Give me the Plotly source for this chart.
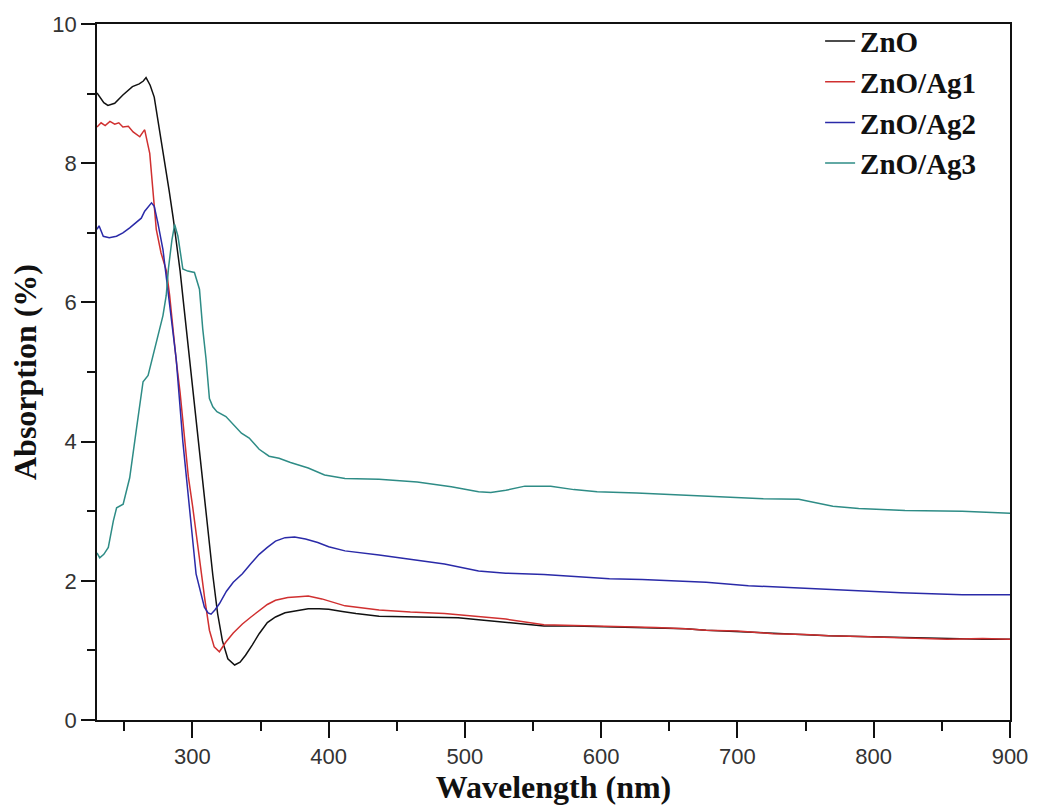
import plotly.graph_objects as go

# ---- data ----
x_zno = [230, 232, 235, 238, 243, 249, 256, 261, 264, 266, 269, 272, 276, 280, 283, 286, 291, 294, 297, 300,
         305, 310, 315, 318.5, 322, 326, 331, 335, 339, 344, 349, 355, 361, 368, 376, 385, 393, 400, 410, 420,
         437, 460, 495, 510, 530, 558, 580, 606, 640, 662, 677, 700, 726, 750, 767, 790, 811, 854, 880, 900]
y_zno = [9.01, 8.95, 8.87, 8.83, 8.86, 8.98, 9.10, 9.14, 9.18, 9.23, 9.12, 8.95, 8.48, 8.0, 7.6, 7.2, 6.45, 5.9, 5.35, 4.75,
         3.86, 2.95, 2.08, 1.53, 1.14, 0.88, 0.79, 0.83, 0.93, 1.08, 1.24, 1.40, 1.48, 1.54, 1.57, 1.60, 1.60, 1.59, 1.56, 1.53,
         1.49, 1.48, 1.47, 1.44, 1.40, 1.35, 1.35, 1.34, 1.32, 1.31, 1.29, 1.27, 1.24, 1.22, 1.21, 1.20, 1.19, 1.17, 1.16, 1.16]

x_ag1 = [230, 233, 236, 239.5, 243, 246, 249, 253, 256.5, 259, 261.4, 263.8, 265, 268.7, 271, 273.5, 277, 281, 283.3, 285.7,
         288, 291, 294.2, 297, 300.3, 303, 306.3, 309, 312.5, 316, 319.8, 324.6, 330, 336.7, 343, 349, 355, 361, 370, 378,
         385, 395, 412, 437, 460, 485, 510, 530, 558, 580, 606, 640, 662, 677, 700, 726, 750, 767, 790, 811, 854, 880, 900]
y_ag1 = [8.52, 8.58, 8.54, 8.60, 8.56, 8.58, 8.52, 8.53, 8.45, 8.42, 8.38, 8.45, 8.48, 8.14, 7.67, 7.05, 6.71, 6.45, 6.10, 5.62,
         5.19, 4.70, 4.00, 3.50, 3.05, 2.65, 2.10, 1.75, 1.29, 1.05, 0.98, 1.12, 1.25, 1.38, 1.48, 1.57, 1.66, 1.72, 1.76, 1.77,
         1.78, 1.74, 1.64, 1.58, 1.55, 1.53, 1.49, 1.45, 1.37, 1.36, 1.34, 1.33, 1.31, 1.29, 1.28, 1.24, 1.23, 1.21, 1.20, 1.19, 1.16, 1.17, 1.16]

x_ag2 = [230, 231.5, 234.6, 239, 244.3, 249, 254, 258, 262.5, 265, 268.7, 270, 272, 274.7, 278.4, 280.8, 283.3, 285.7, 288.1, 293,
         297.9, 302.7, 308.8, 311.5, 313.7, 316.5, 319.8, 325, 330, 336.7, 343, 349, 355, 361, 368, 375, 383, 392, 400, 412,
         437, 464, 485, 510, 530, 558, 580, 606, 630, 655, 677, 708, 730, 759, 789, 820, 865, 900]
y_ag2 = [7.05, 7.10, 6.95, 6.93, 6.95, 7.00, 7.07, 7.14, 7.21, 7.31, 7.40, 7.43, 7.38, 7.14, 6.76, 6.38, 6.00, 5.62, 5.19, 4.00,
         3.05, 2.10, 1.62, 1.54, 1.52, 1.58, 1.67, 1.85, 1.98, 2.10, 2.25, 2.38, 2.48, 2.57, 2.62, 2.63, 2.60, 2.55, 2.49, 2.43,
         2.37, 2.30, 2.24, 2.14, 2.11, 2.09, 2.06, 2.03, 2.02, 2.00, 1.98, 1.93, 1.91, 1.88, 1.85, 1.83, 1.80, 1.80]

x_ag3 = [230, 232, 235, 238.3, 242, 244.4, 249.2, 254, 259, 263.8, 267.5, 271, 276, 278.4, 280.8, 282.5, 285, 287, 289.4, 293,
         296.6, 301.5, 305.2, 307.6, 310, 312.5, 315, 318, 324.6, 330, 336, 341.7, 349, 356.3, 363.6, 372, 385, 397, 412, 437,
         465, 490, 510, 519, 530, 544, 563, 580, 597, 626, 662.6, 677, 700, 719, 745, 770, 789, 823, 865, 900]
y_ag3 = [2.40, 2.33, 2.38, 2.48, 2.86, 3.05, 3.10, 3.48, 4.19, 4.86, 4.95, 5.24, 5.62, 5.81, 6.10, 6.50, 6.90, 7.12, 6.95, 6.48,
         6.45, 6.43, 6.19, 5.62, 5.19, 4.62, 4.50, 4.43, 4.36, 4.24, 4.12, 4.05, 3.89, 3.79, 3.76, 3.70, 3.62, 3.52, 3.47, 3.46,
         3.42, 3.35, 3.28, 3.27, 3.30, 3.36, 3.36, 3.31, 3.28, 3.26, 3.23, 3.21, 3.20, 3.18, 3.17, 3.07, 3.04, 3.01, 3.00, 2.97]

series_names = ["ZnO", "ZnO/Ag1", "ZnO/Ag2", "ZnO/Ag3"]
series_colors = ["#111111", "#d03030", "#2a2aa8", "#2e8c86"]
series_x = [x_zno, x_ag1, x_ag2, x_ag3]
series_y = [y_zno, y_ag1, y_ag2, y_ag3]

x_tickvals = [300, 400, 500, 600, 700, 800, 900]
y_tickvals = [0, 2, 4, 6, 8, 10]

fig = go.Figure()
for name, color, xs, ys in zip(series_names, series_colors, series_x, series_y):
    fig.add_trace(go.Scatter(x=xs, y=ys, mode="lines", name=name,
                             line=dict(color=color, width=1.5)))

tick_font = dict(family="Liberation Sans, Arial, sans-serif", size=22, color="#333333")
title_font = dict(family="Liberation Serif, Times New Roman, serif", size=32, color="#111111")

fig.update_layout(
    width=1040, height=811,
    margin=dict(l=97, r=25, t=20, b=91),
    paper_bgcolor="white", plot_bgcolor="white",
    showlegend=True,
    legend=dict(x=0.792, y=1.012, xanchor="left", yanchor="top",
                bgcolor="rgba(0,0,0,0)", borderwidth=0,
                font=dict(family="Liberation Serif, Times New Roman, serif", size=29,
                          color="#111111", weight="bold"),
                tracegroupgap=0, itemwidth=30),
)

fig.update_xaxes(
    range=[230, 900], tickvals=x_tickvals, ticks="outside", ticklen=16, tickwidth=1.5,
    tickcolor="#111111", showline=True, linecolor="#111111", linewidth=1.5, mirror=True,
    showgrid=False, zeroline=False, tickfont=tick_font,
    minor=dict(tickvals=[250, 350, 450, 550, 650, 750, 850], ticks="outside", ticklen=9,
               tickwidth=1.5, tickcolor="#111111", showgrid=False),
    title=dict(text="<b>Wavelength (nm)</b>", font=title_font, standoff=4),
)
fig.update_yaxes(
    range=[0, 10], tickvals=y_tickvals, ticks="outside", ticklen=14, tickwidth=1.5,
    tickcolor="#111111", showline=True, linecolor="#111111", linewidth=1.5, mirror=True,
    showgrid=False, zeroline=False, tickfont=tick_font,
    minor=dict(tickvals=[1, 3, 5, 7, 9], ticks="outside", ticklen=8,
               tickwidth=1.5, tickcolor="#111111", showgrid=False),
    title=dict(text="<b>Absorption (%)</b>", font=title_font, standoff=6),
)

fig.write_html("out.html")
